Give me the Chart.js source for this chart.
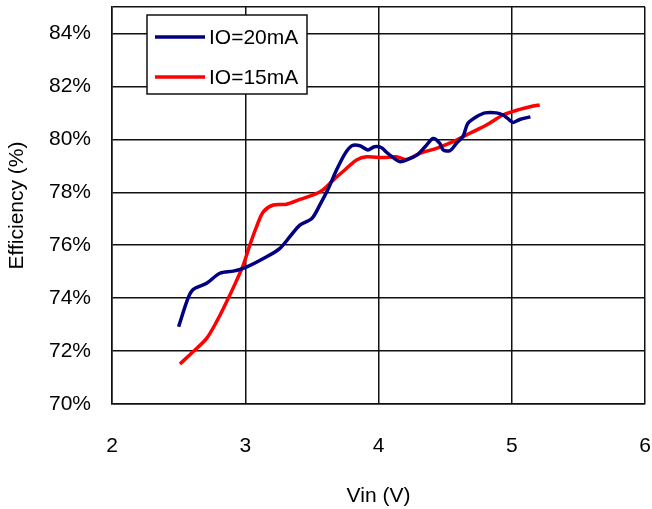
<!DOCTYPE html>
<html>
<head>
<meta charset="utf-8">
<script src="https://cdn.jsdelivr.net/npm/chart.js@4.4.1/dist/chart.umd.min.js"></script>
<style>
  html, body { margin: 0; padding: 0; background: #ffffff; }
  #wrap { width: 652px; height: 509px; position: relative; }
</style>
</head>
<body>
<div id="wrap"><canvas id="c" width="652" height="509"></canvas></div>
<script>
// ---- Data ----
const seriesLabels = ["IO=20mA", "IO=15mA"];
const vin20 = [2.50, 2.57, 2.61, 2.71, 2.81, 2.91, 3.00, 3.16, 3.26, 3.335, 3.41, 3.50, 3.56, 3.62, 3.685, 3.75, 3.80, 3.86, 3.92, 3.97, 4.02, 4.07, 4.16, 4.22, 4.29, 4.35, 4.41, 4.46, 4.485, 4.535, 4.585, 4.635, 4.67, 4.735, 4.80, 4.885, 4.935, 4.97, 5.01, 5.06, 5.14];
const eff20 = [72.92, 73.99, 74.33, 74.56, 74.94, 75.02, 75.15, 75.56, 75.88, 76.32, 76.76, 77.01, 77.52, 78.10, 78.84, 79.47, 79.76, 79.76, 79.60, 79.72, 79.69, 79.47, 79.16, 79.24, 79.41, 79.72, 80.03, 79.85, 79.60, 79.57, 79.85, 80.12, 80.60, 80.85, 81.00, 81.00, 80.92, 80.79, 80.64, 80.75, 80.85];
const vin15 = [2.51, 2.61, 2.71, 2.785, 2.86, 2.92, 2.985, 3.035, 3.085, 3.135, 3.21, 3.31, 3.41, 3.51, 3.58, 3.66, 3.76, 3.835, 3.91, 4.035, 4.135, 4.21, 4.31, 4.435, 4.56, 4.685, 4.81, 4.935, 5.06, 5.16, 5.21];
const eff15 = [71.51, 71.98, 72.48, 73.11, 73.86, 74.50, 75.25, 76.01, 76.70, 77.26, 77.52, 77.55, 77.73, 77.90, 78.08, 78.46, 78.90, 79.22, 79.34, 79.31, 79.34, 79.24, 79.47, 79.66, 79.91, 80.23, 80.54, 80.92, 81.13, 81.26, 81.30];
const xTicks = [2, 3, 4, 5, 6];
const yTicks = [70, 72, 74, 76, 78, 80, 82, 84];
const xTitle = "Vin (V)";
const yTitle = "Efficiency (%)";
const colors = ["#000080", "#ff0000"];

const FONT = "'Liberation Sans', Arial, sans-serif";
const FS = 21;
const toPts = (xs, ys) => xs.map((x, i) => ({ x: x, y: ys[i] }));

const legendBox = {
  id: 'legendBox',
  afterDatasetsDraw(chart) {
    const ctx = chart.ctx, a = chart.chartArea;
    const bx = a.left + 35, by = a.top + 8, bw = 160, bh = 79;
    ctx.save();
    ctx.fillStyle = '#ffffff';
    ctx.fillRect(bx, by, bw, bh);
    ctx.strokeStyle = '#111';
    ctx.lineWidth = 1.5;
    ctx.strokeRect(bx, by, bw, bh);
    chart.data.datasets.forEach((ds, i) => {
      const cy = by + 22 + i * 40;
      ctx.strokeStyle = ds.borderColor;
      ctx.lineWidth = 3.5;
      ctx.beginPath();
      ctx.moveTo(bx + 8, cy);
      ctx.lineTo(bx + 58, cy);
      ctx.stroke();
      ctx.fillStyle = '#000';
      ctx.font = FS + "px " + FONT;
      ctx.textBaseline = 'middle';
      ctx.textAlign = 'left';
      ctx.fillText(ds.label, bx + 62, cy + 1);
    });
    ctx.restore();
  }
};

new Chart(document.getElementById('c'), {
  type: 'scatter',
  data: {
    datasets: [
      { label: seriesLabels[0], data: toPts(vin20, eff20), borderColor: colors[0], backgroundColor: colors[0], showLine: true, borderWidth: 3.5, pointRadius: 0, tension: 0.3 },
      { label: seriesLabels[1], data: toPts(vin15, eff15), borderColor: colors[1], backgroundColor: colors[1], showLine: true, borderWidth: 3.5, pointRadius: 0, tension: 0.3 }
    ]
  },
  options: {
    responsive: false,
    animation: false,
    layout: { padding: { top: 7, right: 7, bottom: 0, left: 0 } },
    plugins: { legend: { display: false }, tooltip: { enabled: false } },
    scales: {
      x: {
        type: 'linear', min: 2, max: 6,
        afterBuildTicks: s => { s.ticks = xTicks.map(v => ({ value: v })); },
        afterFit: s => { s.height = 105; s.paddingLeft = 0; s.paddingRight = 0; },
        grid: { color: '#111', lineWidth: 1.5, drawTicks: false },
        border: { color: '#111', width: 1.5 },
        ticks: { color: '#000', font: { family: FONT, size: FS }, padding: 30, maxRotation: 0 },
        title: { display: true, text: xTitle, color: '#000', font: { family: FONT, size: FS }, padding: { top: 0, bottom: 0 } }
      },
      y: {
        type: 'linear', min: 70, max: 85,
        afterBuildTicks: s => { s.ticks = yTicks.concat([85]).map(v => ({ value: v })); },
        afterFit: s => { s.width = 112; s.paddingTop = 0; s.paddingBottom = 0; },
        grid: { color: '#111', lineWidth: 1.5, drawTicks: false },
        border: { color: '#111', width: 1.5 },
        ticks: { color: '#000', font: { family: FONT, size: FS }, padding: 21, callback: v => (yTicks.includes(v) ? v + '%' : '') },
        title: { display: true, text: yTitle, color: '#000', font: { family: FONT, size: FS }, padding: { top: 5, bottom: 0 } }
      }
    }
  },
  plugins: [legendBox]
});
</script>
</body>
</html>
